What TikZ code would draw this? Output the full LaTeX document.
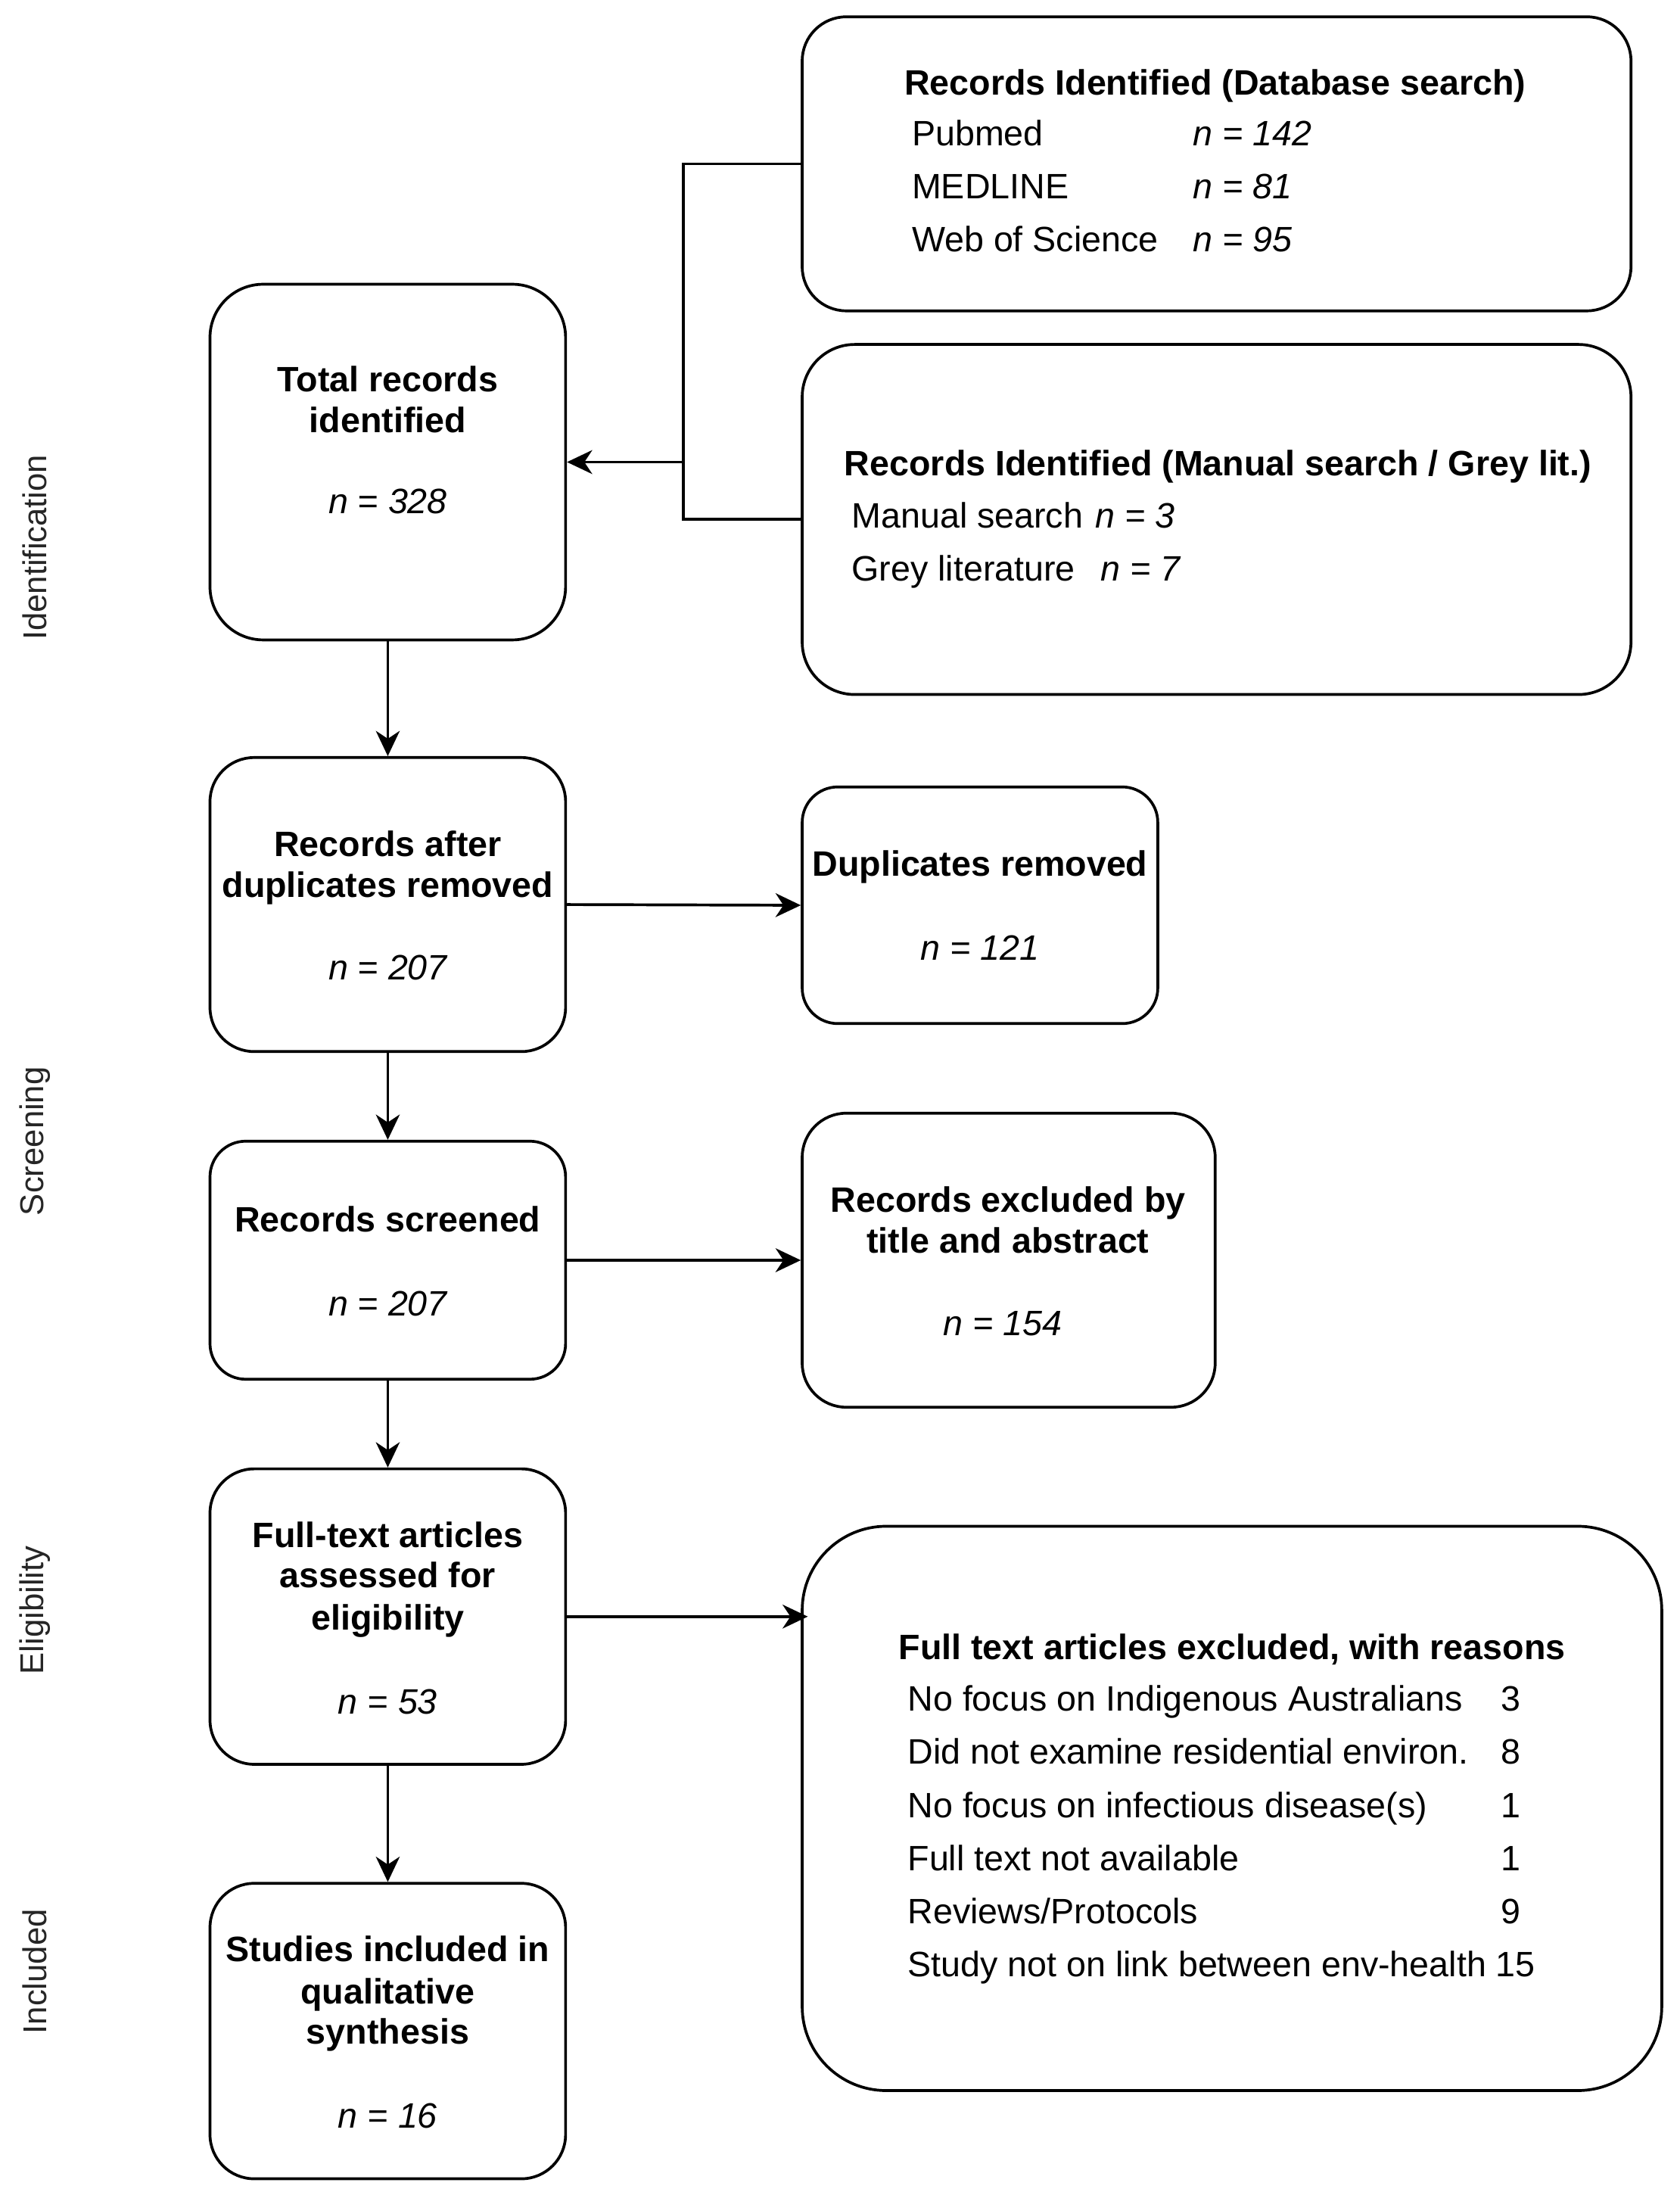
\documentclass[tikz,border=0pt]{standalone}
\usepackage{fontspec}
\setmainfont{Liberation Sans}
\usetikzlibrary{arrows.meta,calc}
\tikzset{
  box/.style={draw=black, line width=1pt, inner sep=0pt, fill=white},
  txt/.style={inner sep=0pt, yshift=-1.8pt, font=\fontsize{12.6}{14.5}\selectfont, text=black},
  btxt/.style={txt, font=\fontsize{12.6}{14.5}\selectfont\bfseries, align=center},
  itxt/.style={txt, font=\fontsize{12.6}{14.5}\selectfont\itshape},
  phase/.style={inner sep=0pt, font=\fontsize{11.8}{14}\selectfont, text=black!85, rotate=90},
  conn/.style={draw=black, line width=1pt},
  arr/.style={conn, -{Stealth[length=9pt, width=8.5pt, inset=2.8pt]}},
}
\begin{document}
\begin{tikzpicture}[x=0.5pt, y=-0.5pt]
\useasboundingbox (0,0) rectangle (1200,1567.6);
% boxes
\node[box, minimum width=296pt, minimum height=105pt, rounded corners=15.75pt] (db) at (869,117) {};
\node[box, minimum width=296pt, minimum height=125pt, rounded corners=18.75pt] (man) at (869,371) {};
\node[box, minimum width=127pt, minimum height=127pt, rounded corners=19pt] (total) at (277,330) {};
\node[box, minimum width=127pt, minimum height=105pt, rounded corners=15.75pt] (after) at (277,646) {};
\node[box, minimum width=127pt, minimum height=84.5pt, rounded corners=12.7pt] (dup) at (700,646.5) {};
\node[box, minimum width=127pt, minimum height=85pt, rounded corners=12.75pt] (scr) at (277,900) {};
\node[box, minimum width=147.5pt, minimum height=105pt, rounded corners=15.75pt] (excl) at (720.5,900) {};
\node[box, minimum width=127pt, minimum height=105.5pt, rounded corners=15.8pt] (full) at (277,1154.5) {};
\node[box, minimum width=307pt, minimum height=201.5pt, rounded corners=30pt] (fte) at (880,1291.5) {};
\node[box, minimum width=127pt, minimum height=105.5pt, rounded corners=15.8pt] (stud) at (277,1450.5) {};

% phase labels
\node[phase] (pid) at (25,391) {Identification};
\node[phase] (pscr) at (25,815) {Screening};
\node[phase] (pel) at (25,1150) {Eligibility};
\node[phase] (pinc) at (25,1408) {Included};

% DB box text
\node[btxt, anchor=mid] (dbt) at (868,59) {Records Identified (Database search)};
\node[txt, anchor=mid west] (db1) at (651,95) {Pubmed};
\node[itxt, anchor=mid west] (db1n) at (852,95) {n = 142};
\node[txt, anchor=mid west] (db2) at (651,133) {MEDLINE};
\node[itxt, anchor=mid west] (db2n) at (852,133) {n = 81};
\node[txt, anchor=mid west] (db3) at (651,171) {Web of Science};
\node[itxt, anchor=mid west] (db3n) at (852,171) {n = 95};

% Manual box text
\node[btxt, anchor=mid] (mant) at (870,331) {Records Identified (Manual search / Grey lit.)};
\node[txt, anchor=mid west] (man1) at (608,368) {Manual search};
\node[itxt, anchor=mid west] (man1n) at (782,368) {n = 3};
\node[txt, anchor=mid west] (man2) at (608,406) {Grey literature};
\node[itxt, anchor=mid west] (man2n) at (786,406) {n = 7};

% Total
\node[btxt, anchor=mid] (tot1) at (277,271) {Total records};
\node[btxt, anchor=mid] (tot2) at (277,300) {identified};
\node[itxt, anchor=mid] (totn) at (277,358) {n = 328};

% After
\node[btxt, anchor=mid] (aft1) at (277,603) {Records after};
\node[btxt, anchor=mid] (aft2) at (277,632) {duplicates removed};
\node[itxt, anchor=mid] (aftn) at (277,691) {n = 207};

% Dup
\node[btxt, anchor=mid] (dup1) at (700,617) {Duplicates removed};
\node[itxt, anchor=mid] (dupn) at (700,677) {n = 121};

% Screened
\node[btxt, anchor=mid] (scr1) at (277,871) {Records screened};
\node[itxt, anchor=mid] (scrn) at (277,931) {n = 207};

% Excluded
\node[btxt, anchor=mid] (exc1) at (720,857) {Records excluded by};
\node[btxt, anchor=mid] (exc2) at (720,886) {title and abstract};
\node[itxt, anchor=mid] (excn) at (716,945) {n = 154};

% Full text
\node[btxt, anchor=mid] (ful1) at (277,1096) {Full-text articles};
\node[btxt, anchor=mid] (ful2) at (277,1125) {assessed for};
\node[btxt, anchor=mid] (ful3) at (277,1155) {eligibility};
\node[itxt, anchor=mid] (fuln) at (277,1215) {n = 53};

% FTE box
\node[btxt, anchor=mid] (ftet) at (880,1176) {Full text articles excluded, with reasons};
\node[txt, anchor=mid west] (r1) at (648,1213) {No focus on Indigenous Australians};
\node[txt, anchor=mid west] (r1n) at (1072,1213) {3};
\node[txt, anchor=mid west] (r2) at (648,1251) {Did not examine residential environ.};
\node[txt, anchor=mid west] (r2n) at (1072,1251) {8};
\node[txt, anchor=mid west] (r3) at (648,1289) {No focus on infectious disease(s)};
\node[txt, anchor=mid west] (r3n) at (1072,1289) {1};
\node[txt, anchor=mid west] (r4) at (648,1327) {Full text not available};
\node[txt, anchor=mid west] (r4n) at (1072,1327) {1};
\node[txt, anchor=mid west] (r5) at (648,1365) {Reviews/Protocols};
\node[txt, anchor=mid west] (r5n) at (1072,1365) {9};
\node[txt, anchor=mid west] (r6) at (648,1403) {Study not on link between env-health};
\node[txt, anchor=mid west] (r6n) at (1068,1403) {15};

% Studies
\node[btxt, anchor=mid] (stu1) at (277,1392) {Studies included in};
\node[btxt, anchor=mid] (stu2) at (277,1422) {qualitative};
\node[btxt, anchor=mid] (stu3) at (277,1451) {synthesis};
\node[itxt, anchor=mid] (stun) at (277,1511) {n = 16};

% connectors
\coordinate (jx) at (488,330);
\draw[conn] (db.west) -- (db.west -| jx) -- (jx |- man.west) -- (man.west);
\draw[arr] (jx) -- (total.east);
\draw[arr] (total.south) -- (after.north);
\draw[arr] (after.east) -- (dup.west);
\draw[arr] (after.south) -- (scr.north);
\draw[arr] (scr.east) -- (excl.west);
\draw[arr] (scr.south) -- (full.north);
\draw[arr] (full.east) -- ($(full.east -| fte.west)+(5,0)$);
\draw[arr] (full.south) -- (stud.north);
\end{tikzpicture}
\end{document}
